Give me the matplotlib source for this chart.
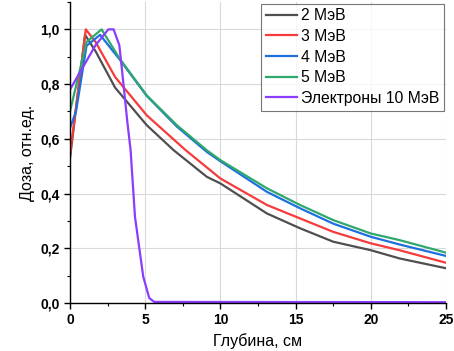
import numpy as np
import matplotlib
matplotlib.use("Agg")
import matplotlib.pyplot as plt
from matplotlib.ticker import MultipleLocator, FuncFormatter

plt.rcParams['font.family'] = ['Liberation Sans', 'DejaVu Sans']

# Глубина (см) и доза (отн.ед.)
x_2 = [0, 1.0, 1.7, 3.0, 5.1, 6.9, 9.1, 10.0, 13.1, 15.3, 17.5, 20.0, 21.9, 25.0]
y_2 = [0.53, 0.98, 0.92, 0.787, 0.65, 0.558, 0.461, 0.437, 0.327, 0.273, 0.224, 0.193, 0.163, 0.127]

x_3 = [0, 1.05, 1.7, 3.0, 5.1, 7.7, 10.0, 13.1, 15.3, 17.5, 20.0, 21.9, 25.0]
y_3 = [0.54, 1.0, 0.954, 0.826, 0.686, 0.558, 0.455, 0.358, 0.309, 0.260, 0.218, 0.193, 0.147]

x_4 = [0, 0.4, 1.1, 2.0, 3.3, 5.1, 7.1, 9.1, 10.0, 13.1, 15.3, 17.5, 20.0, 21.9, 25.0]
y_4 = [0.64, 0.70, 0.94, 0.98, 0.89, 0.757, 0.645, 0.552, 0.518, 0.406, 0.346, 0.290, 0.242, 0.214, 0.172]

x_5 = [0, 1.1, 2.1, 3.3, 5.1, 7.1, 9.1, 10.0, 13.1, 15.3, 17.5, 20.0, 21.9, 25.0]
y_5 = [0.70, 0.954, 1.0, 0.893, 0.759, 0.650, 0.558, 0.522, 0.419, 0.358, 0.303, 0.254, 0.230, 0.184]

x_e = [0, 1.7, 2.55, 2.9, 3.28, 3.46, 3.8, 4.03, 4.32, 4.87, 5.27, 5.6, 25.0]
y_e = [0.78, 0.942, 1.0, 1.0, 0.942, 0.85, 0.668, 0.558, 0.315, 0.096, 0.018, 0.004, 0.003]

series = [
    (x_2, y_2, '#4f4f4f', '2 МэВ'),
    (x_3, y_3, '#f53b3b', '3 МэВ'),
    (x_4, y_4, '#1e6fe0', '4 МэВ'),
    (x_5, y_5, '#2fa86c', '5 МэВ'),
    (x_e, y_e, '#8a3cff', 'Электроны 10 МэВ'),
]

fig = plt.figure(figsize=(4.54, 3.51), dpi=100)
ax = fig.add_axes([70 / 454, 48 / 351, 376 / 454, 301 / 351])

for xs, ys, c, lab in series:
    ax.plot(xs, ys, color=c, lw=1.6, label=lab)

ax.set_xlim(0, 25)
ax.set_ylim(0, 1.1)
ax.xaxis.set_major_locator(MultipleLocator(5))
ax.xaxis.set_minor_locator(MultipleLocator(2.5))
ax.yaxis.set_major_locator(MultipleLocator(0.2))
ax.yaxis.set_minor_locator(MultipleLocator(0.1))
ax.yaxis.set_major_formatter(FuncFormatter(lambda v, p: ('%.1f' % v).replace('.', ',')))
ax.grid(True, which='major', color='#d9d9d9', lw=0.8)
ax.set_axisbelow(True)
for s in ['top', 'right']:
    ax.spines[s].set_visible(False)
for s in ['left', 'bottom']:
    ax.spines[s].set_linewidth(1.0)
ax.tick_params(which='major', length=4, width=1.0, direction='out', labelsize=10)
ax.tick_params(which='minor', length=2.5, width=0.8, direction='out')
for t in ax.get_xticklabels() + ax.get_yticklabels():
    t.set_fontweight('bold')

ax.set_xlabel('Глубина, см', fontsize=11.5)
ax.set_ylabel('Доза, отн.ед.', fontsize=11.5)

leg = ax.legend(loc='upper right', bbox_to_anchor=(1.0, 1.0), fontsize=11.3, frameon=True,
                fancybox=False, edgecolor='#555555', handlelength=2.0, handletextpad=0.25,
                labelspacing=0.36, borderpad=0.3, borderaxespad=0.1)
leg.get_frame().set_linewidth(0.8)

fig.savefig('out.png', dpi=100)
